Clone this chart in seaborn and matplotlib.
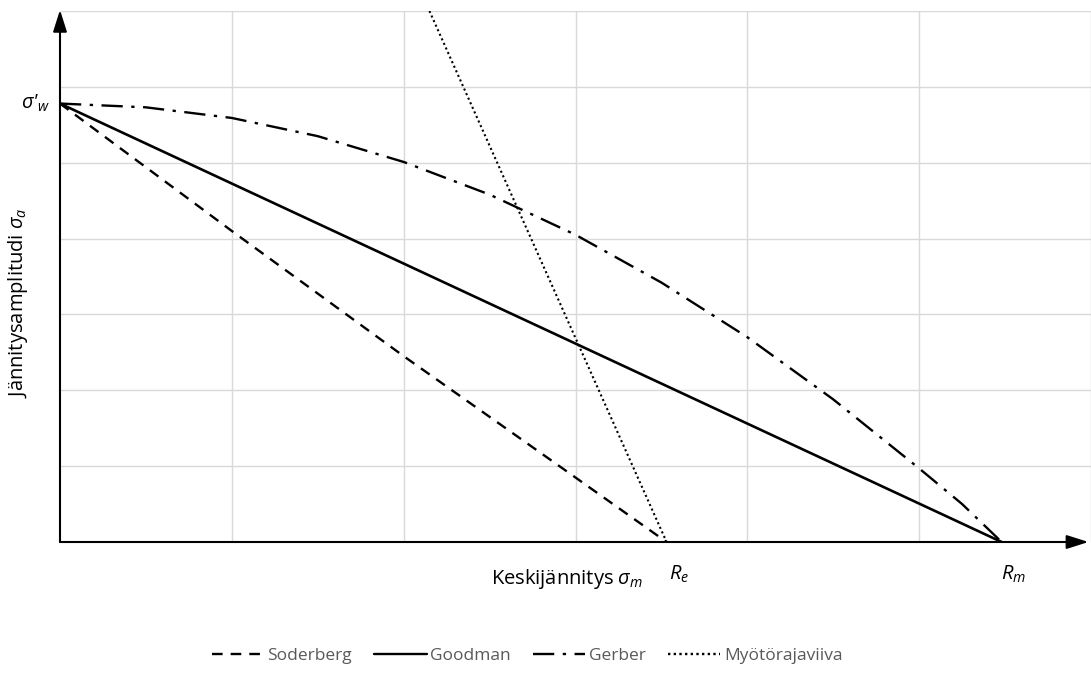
import matplotlib
matplotlib.use("Agg")
import matplotlib.pyplot as plt
import seaborn as sns
import pandas as pd

# Fatigue strength diagram (schematic units): mean stress vs. stress amplitude
sigma_w = 5.78   # fatigue limit sigma'_w
R_e = 3.53       # yield strength
R_m = 5.48       # ultimate tensile strength

soderberg_x = [0.0, 1.0, 2.0, 3.0, R_e]
soderberg_y = [sigma_w, 4.10, 2.45, 0.85, 0.0]

goodman_x = [0.0, R_m]
goodman_y = [sigma_w, 0.0]

gerber_x = [0.0, 0.5, 1.0, 1.5, 2.0, 2.5, 3.0, 3.5, 4.0, 4.5, 5.0, 5.25, R_m]
gerber_y = [sigma_w, 5.73, 5.59, 5.35, 5.01, 4.58, 4.05, 3.42, 2.70, 1.88, 0.97, 0.50, 0.0]

yield_x = [2.15, R_e]
yield_y = [7.0, 0.0]

series_names = ["Soderberg", "Goodman", "Gerber", "Myötörajaviiva"]

sns.set_theme(style="white")
plt.rcParams["font.family"] = ["Open Sans", "DejaVu Sans"]
plt.rcParams["mathtext.fontset"] = "custom"
plt.rcParams["mathtext.rm"] = "Open Sans"
plt.rcParams["mathtext.it"] = "Open Sans:italic"

W, H = 1091, 680
fig = plt.figure(figsize=(W / 100, H / 100), dpi=100)
ax = fig.add_axes([60 / W, (H - 542) / H, (W - 60) / W, (542 - 11) / H])

frames = [
    pd.DataFrame({"x": soderberg_x, "y": soderberg_y, "s": series_names[0]}),
    pd.DataFrame({"x": goodman_x, "y": goodman_y, "s": series_names[1]}),
    pd.DataFrame({"x": gerber_x, "y": gerber_y, "s": series_names[2]}),
    pd.DataFrame({"x": yield_x, "y": yield_y, "s": series_names[3]}),
]
styles = {
    series_names[0]: dict(ls=(0, (4.5, 3.4)), lw=1.7),
    series_names[1]: dict(ls="-", lw=1.9),
    series_names[2]: dict(ls=(0, (9, 3.6, 1.4, 3.6)), lw=1.7),
    series_names[3]: dict(ls=(0, (1, 1.4)), lw=1.5),
}
handles = []
for df in frames:
    name = df["s"].iloc[0]
    sns.lineplot(data=df, x="x", y="y", ax=ax, color="black", sort=False,
                 estimator=None, linestyle=styles[name]["ls"],
                 linewidth=styles[name]["lw"], label=name, legend=False)
    handles.append(ax.lines[-1])

ax.set_xlim(0, 6)
ax.set_ylim(0, 7)
ax.set_xticks(range(1, 7))
ax.set_yticks(range(1, 8))
ax.tick_params(length=0, labelbottom=False, labelleft=False)
ax.grid(True, color="#d9d9d9", linewidth=1.0)
ax.set_axisbelow(True)
for sp in ax.spines.values():
    sp.set_visible(False)
ax.set_xlabel("")
ax.set_ylabel("")

# Axis arrows
ax.annotate("", xy=(0.9975, 0), xytext=(0, 0), xycoords="axes fraction",
            arrowprops=dict(arrowstyle="-|>,head_length=1.1,head_width=0.35",
                            color="black", lw=1.5, shrinkA=0, shrinkB=0),
            annotation_clip=False)
ax.annotate("", xy=(0, 1.002), xytext=(0, 0), xycoords="axes fraction",
            arrowprops=dict(arrowstyle="-|>,head_length=1.1,head_width=0.35",
                            color="black", lw=1.5, shrinkA=0, shrinkB=0),
            annotation_clip=False)

# Characteristic points
ax.text(-0.06, sigma_w, r"$\sigma$'$_w$", ha="right", va="center", fontsize=14.5,
        style="italic", color="black", clip_on=False)
ax.text(R_e + 0.07, -0.28, r"$R_e$", ha="center", va="top", fontsize=14.5,
        color="black", clip_on=False)
ax.text(R_m + 0.07, -0.28, r"$R_m$", ha="center", va="top", fontsize=14.5,
        color="black", clip_on=False)

# Axis titles
fig.text(567 / W, 1 - 579 / H, r"Keskijännitys $\sigma_m$", ha="center",
         va="center", fontsize=14.5, color="black")
fig.text(18 / W, 1 - 303 / H, r"Jännitysamplitudi $\sigma_a$", ha="center",
         va="center", rotation=90, fontsize=14.5, color="black")

leg = fig.legend(handles=handles, labels=series_names, loc="center",
                 bbox_to_anchor=(527 / W, 1 - 656 / H), ncol=4, frameon=False,
                 fontsize=12.5, handlelength=3.0, handletextpad=0.2,
                 columnspacing=1.3)
for t in leg.get_texts():
    t.set_color("#595959")
for lh in leg.get_lines():
    lh.set_linewidth(1.7)

fig.savefig("out.png", dpi=100)
